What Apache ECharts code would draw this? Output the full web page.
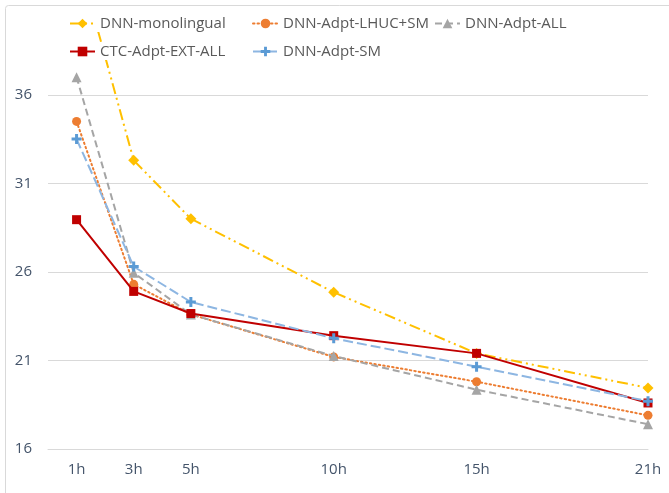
<!DOCTYPE html>
<html>
<head>
<meta charset="utf-8">
<script src="https://cdn.jsdelivr.net/npm/echarts@6/dist/echarts.min.js"></script>
<style>
html,body{margin:0;padding:0;background:#fff;}
#chart{width:669px;height:493px;}
</style>
</head>
<body>
<div id="chart"></div>
<script>
// ---- data ----
const hours = [1, 3, 5, 10, 15, 21];
const hourTicks = [1, 3, 5, 10, 15, 21];
const seriesNames = ['DNN-monolingual', 'DNN-Adpt-LHUC+SM', 'DNN-Adpt-ALL', 'CTC-Adpt-EXT-ALL', 'DNN-Adpt-SM'];
const dnnMonolingual = [44.0, 32.3, 29.0, 24.85, 21.4, 19.45];
const dnnAdptLhucSm = [34.5, 25.3, 23.6, 21.2, 19.8, 17.9];
const dnnAdptAll = [37.0, 25.95, 23.6, 21.25, 19.35, 17.4];
const ctcAdptExtAll = [28.95, 24.9, 23.65, 22.4, 21.4, 18.6];
const dnnAdptSm = [33.5, 26.3, 24.3, 22.25, 20.65, 18.7];

const FONT = '"Open Sans", "Liberation Sans", sans-serif';
const plusPath = 'path://M3.5,0h3v3.5h3.5v3h-3.5v3.5h-3v-3.5h-3.5v-3h3.5z';

function pts(vals) { return hours.map((h, i) => [h, vals[i]]); }

const styles = [
  { data: dnnMonolingual, color: '#FFC000', type: [11, 4, 2, 4, 2, 4], symbol: 'diamond', size: 11, cap: 'butt' },
  { data: dnnAdptLhucSm, color: '#ED7D31', type: [1.5, 3], symbol: 'circle', size: 9, cap: 'round' },
  { data: dnnAdptAll, color: '#A5A5A5', type: [7, 4], symbol: 'triangle', size: 10, cap: 'butt' },
  { data: ctcAdptExtAll, color: '#C00000', type: 'solid', symbol: 'rect', size: 9, cap: 'butt' },
  { data: dnnAdptSm, color: '#5B9BD5', type: [10, 4], symbol: plusPath, size: 10, cap: 'butt', lineColor: '#8DB6E2' }
];

const series = styles.map((s, i) => ({
  name: seriesNames[i],
  type: 'line',
  data: pts(s.data),
  symbol: s.symbol,
  symbolSize: s.size,
  showAllSymbol: true,
  clip: true,
  itemStyle: { color: s.color },
  lineStyle: { color: s.lineColor || s.color, width: 2, type: s.type, cap: s.cap },
  emphasis: { disabled: true },
  z: 2 + i
}));

const legendPos = [
  { left: 69, top: 15 },
  { left: 252, top: 15 },
  { left: 434, top: 15 },
  { left: 69, top: 43 },
  { left: 252, top: 43 }
];
const legends = seriesNames.map((n, i) => ({
  data: [n],
  left: legendPos[i].left,
  top: legendPos[i].top,
  orient: 'horizontal',
  itemWidth: 25,
  itemHeight: 12,
  padding: [1, 2, 1, 0],
  backgroundColor: '#fff',
  selectedMode: false,
  textStyle: { color: '#595959', fontSize: 15, fontFamily: FONT },
  z: 10
}));

const chart = echarts.init(document.getElementById('chart'), null, { renderer: 'canvas' });
chart.setOption({
  animation: false,
  backgroundColor: '#fff',
  grid: { left: 48, right: 21, top: 24, bottom: 44, containLabel: false },
  xAxis: {
    type: 'value',
    min: 0,
    max: 21,
    axisLine: { show: true, lineStyle: { color: '#D9D9D9', width: 1 } },
    axisTick: { show: false },
    splitLine: { show: false },
    axisLabel: {
      customValues: hourTicks,
      formatter: v => v + 'h',
      color: '#44546A',
      fontSize: 15,
      fontFamily: FONT,
      margin: 13
    }
  },
  yAxis: {
    type: 'value',
    min: 16,
    max: 40,
    interval: 5,
    axisLine: { show: false },
    axisTick: { show: false },
    splitLine: { show: true, showMaxLine: false, lineStyle: { color: '#D9D9D9', width: 1 } },
    axisLabel: {
      showMaxLabel: false,
      color: '#44546A',
      fontSize: 15,
      fontFamily: FONT,
      margin: 16
    }
  },
  legend: legends,
  series: series,
  graphic: [{
    type: 'rect',
    shape: { x: 5.5, y: 5.5, width: 700, height: 600, r: 3 },
    style: { fill: null, stroke: '#D9D9D9', lineWidth: 1 },
    silent: true,
    z: 0
  }]
});
</script>
</body>
</html>
